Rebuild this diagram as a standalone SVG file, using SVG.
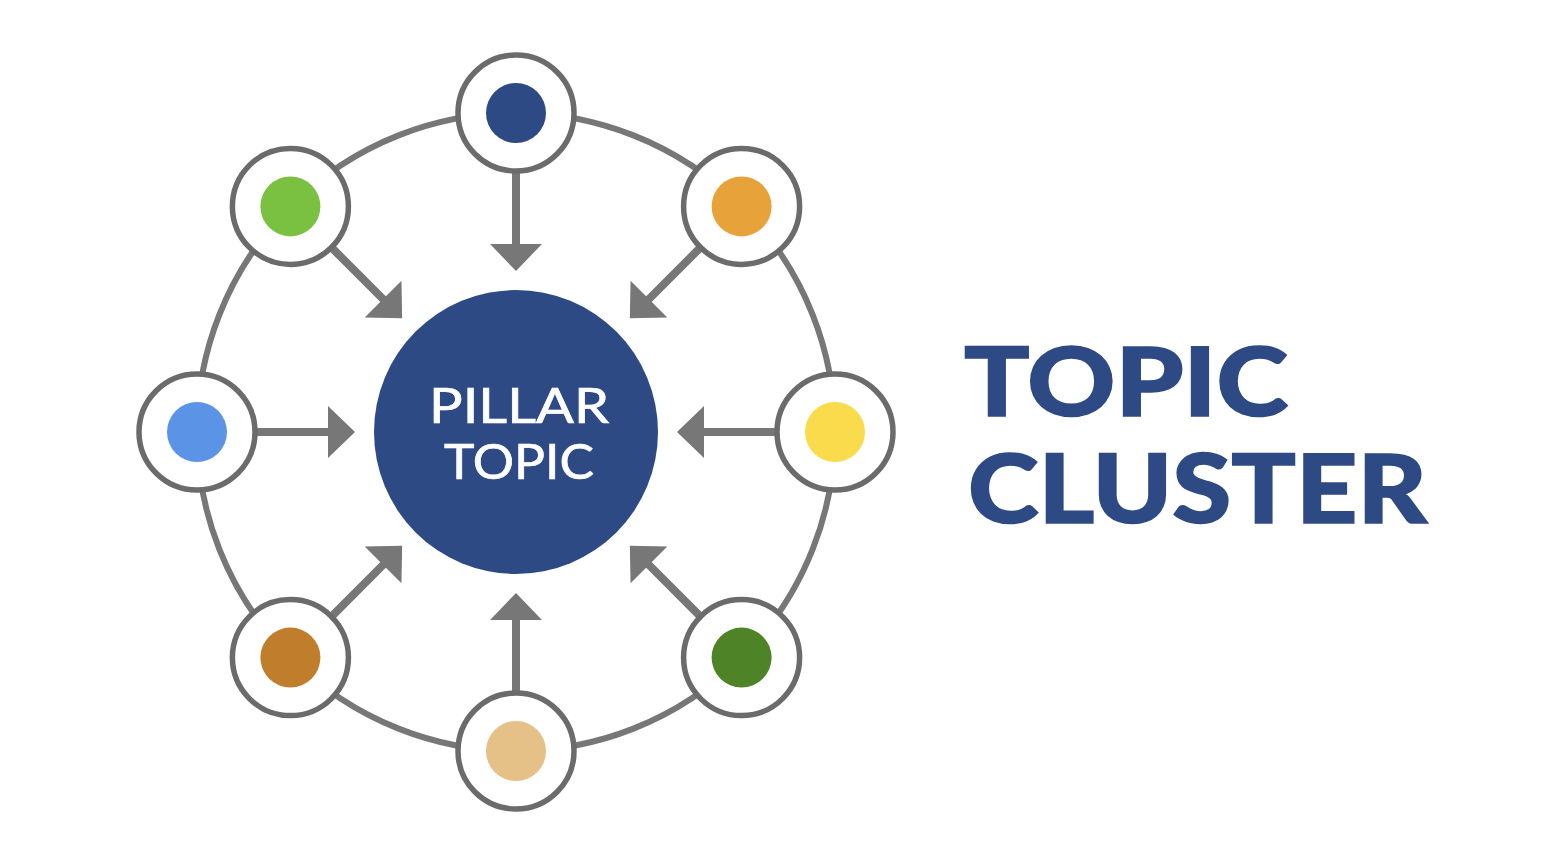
<svg xmlns="http://www.w3.org/2000/svg" width="1546" height="858" viewBox="0 0 1546 858" shape-rendering="geometricPrecision">
<style>
.ring{fill:none;stroke:#777777;stroke-width:6}
.node{fill:#ffffff;stroke:#6b6b6b;stroke-width:5.5}
.shaft{stroke:#777777;stroke-width:8;fill:none}
.head{fill:#777777}
.pillar{font-family:Lato,"Open Sans",sans-serif;font-size:49px;font-weight:400;fill:#ffffff;stroke:#ffffff;stroke-width:0.7;text-anchor:middle}
.title{font-family:Lato,"Open Sans",sans-serif;font-weight:900;font-size:96px;fill:#2E4A84;stroke:#2E4A84;stroke-width:1.6}
</style>
<rect width="1546" height="858" fill="#ffffff"/>
<circle class="ring" cx="516" cy="432" r="319"/>
<g id="connectors">
  <g transform="rotate(0 516 432)"><line class="shaft" x1="516" y1="171" x2="516" y2="246"/><polygon class="head" points="490,244 542,244 516,271"/></g>
  <g transform="rotate(45 516 432)"><line class="shaft" x1="516" y1="171" x2="516" y2="246"/><polygon class="head" points="490,244 542,244 516,271"/></g>
  <g transform="rotate(90 516 432)"><line class="shaft" x1="516" y1="171" x2="516" y2="246"/><polygon class="head" points="490,244 542,244 516,271"/></g>
  <g transform="rotate(135 516 432)"><line class="shaft" x1="516" y1="171" x2="516" y2="246"/><polygon class="head" points="490,244 542,244 516,271"/></g>
  <g transform="rotate(180 516 432)"><line class="shaft" x1="516" y1="171" x2="516" y2="246"/><polygon class="head" points="490,244 542,244 516,271"/></g>
  <g transform="rotate(225 516 432)"><line class="shaft" x1="516" y1="171" x2="516" y2="246"/><polygon class="head" points="490,244 542,244 516,271"/></g>
  <g transform="rotate(270 516 432)"><line class="shaft" x1="516" y1="171" x2="516" y2="246"/><polygon class="head" points="490,244 542,244 516,271"/></g>
  <g transform="rotate(315 516 432)"><line class="shaft" x1="516" y1="171" x2="516" y2="246"/><polygon class="head" points="490,244 542,244 516,271"/></g>
</g>
<g id="node-top"><circle class="node" cx="516" cy="113" r="58"/><circle cx="516" cy="113" r="30" fill="#2E4A84"/></g>
<g id="node-upper-right"><circle class="node" cx="741.6" cy="206.4" r="58"/><circle cx="741.6" cy="206.4" r="30" fill="#E8A23A"/></g>
<g id="node-right"><circle class="node" cx="835" cy="432" r="58"/><circle cx="835" cy="432" r="30" fill="#F9DB4C"/></g>
<g id="node-lower-right"><circle class="node" cx="741.6" cy="657.6" r="58"/><circle cx="741.6" cy="657.6" r="30" fill="#4E8427"/></g>
<g id="node-bottom"><circle class="node" cx="516" cy="751" r="58"/><circle cx="516" cy="751" r="30" fill="#E6C187"/></g>
<g id="node-lower-left"><circle class="node" cx="290.4" cy="657.6" r="58"/><circle cx="290.4" cy="657.6" r="30" fill="#C07E2C"/></g>
<g id="node-left"><circle class="node" cx="197" cy="432" r="58"/><circle cx="197" cy="432" r="30" fill="#5B93E6"/></g>
<g id="node-upper-left"><circle class="node" cx="290.4" cy="206.4" r="58"/><circle cx="290.4" cy="206.4" r="30" fill="#7AC142"/></g>
<g id="node-pillar">
  <circle cx="516" cy="432" r="142" fill="#2E4A84"/>
  <text class="pillar" x="519" y="423" textLength="180" lengthAdjust="spacingAndGlyphs">PILLAR</text>
  <text class="pillar" x="519" y="479" textLength="150" lengthAdjust="spacingAndGlyphs">TOPIC</text>
</g>
<g id="title">
  <text class="title" x="964" y="416" textLength="324" lengthAdjust="spacingAndGlyphs">TOPIC</text>
  <text class="title" x="968" y="523" textLength="459" lengthAdjust="spacingAndGlyphs">CLUSTER</text>
</g>
</svg>
